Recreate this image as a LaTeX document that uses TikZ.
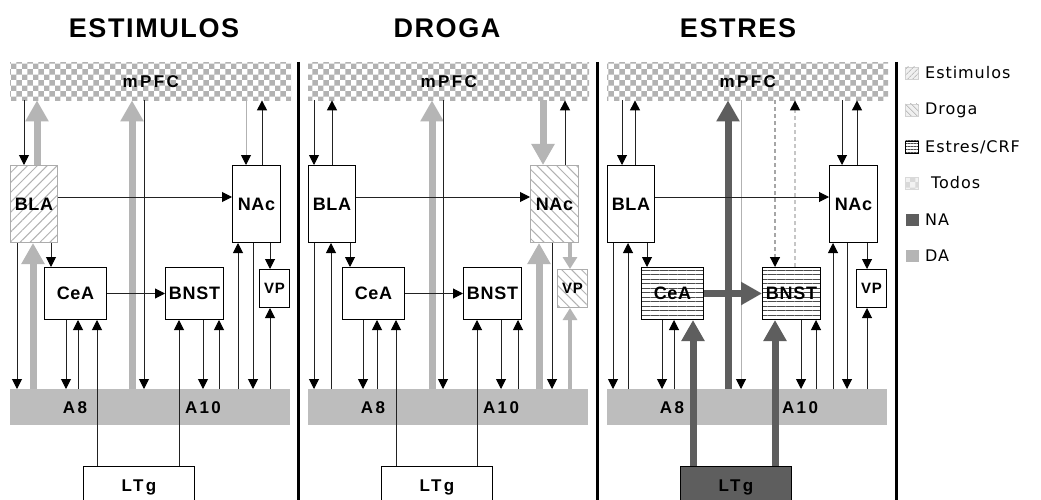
\documentclass[tikz,border=0pt]{standalone}
\usepackage{fontspec}
\setmainfont{Liberation Sans}
\newfontfamily\titfont{Liberation Sans}[LetterSpace=6]
\newfontfamily\lblfont{Liberation Sans}[LetterSpace=14]
\newfontfamily\boxfnt{Liberation Sans}[LetterSpace=4]
\newfontfamily\legfont{DejaVu Sans}[LetterSpace=6]
\usetikzlibrary{arrows.meta,patterns,patterns.meta}
\definecolor{bandgray}{HTML}{BDBDBD}
\definecolor{dagray}{HTML}{B5B5B5}
\definecolor{nagray}{HTML}{5E5E5E}
\definecolor{lnk}{HTML}{222222}
\tikzset{
  box/.style={line width=1pt, inner sep=0pt, anchor=north west,
    font=\boxfnt\bfseries\fontsize{18}{18}\selectfont},
  plainbox/.style={box, draw=black, fill=white},
  estimbox/.style={box, draw=gray!65, pattern={Lines[angle=45,distance=7pt,line width=1pt]}, pattern color=gray!60},
  drogbox/.style={box, draw=gray!65, pattern={Lines[angle=-45,distance=7pt,line width=1pt]}, pattern color=gray!60},
  estrbox/.style={box, draw=black, pattern={Lines[angle=0,distance=4.5pt,line width=1pt]}, pattern color=black!70},
  ltgplain/.style={plainbox, font=\lblfont\bfseries\fontsize{17}{17}\selectfont},
  ltgna/.style={box, draw=black, fill=nagray, font=\lblfont\bfseries\fontsize{17}{17}\selectfont},
  mpfcband/.style={inner sep=0pt, anchor=north west, pattern=checkerboard, pattern color=gray!60,
    minimum width=281pt, minimum height=38pt, font=\lblfont\bfseries\fontsize{17}{17}\selectfont},
  bandbox/.style={inner sep=0pt, anchor=north west, fill=bandgray, minimum width=280pt, minimum height=36pt},
  lbl/.style={font=\lblfont\bfseries\fontsize{17}{17}\selectfont, inner sep=0pt},
  titl/.style={font=\titfont\bfseries\fontsize{27}{27}\selectfont, inner sep=0pt},
  thinarr/.style={draw=lnk, line width=1pt, -{Triangle[length=10pt,width=10pt,color=black]}},
  greyarr/.style={draw=gray!60, line width=1pt, -{Triangle[length=10pt,width=10pt,color=black]}},
  dashdown/.style={draw=gray!70, line width=1.2pt, dash pattern=on 4pt off 3pt, -{Triangle[length=10pt,width=10pt,color=black]}},
  dashup/.style={draw=gray!45, line width=1.2pt, dash pattern=on 4pt off 3pt, -{Triangle[length=10pt,width=10pt,color=black]}},
  da/.style={draw=dagray, line width=7pt, -{Triangle[length=21pt,width=22pt]}},
  dasmall/.style={draw=dagray, line width=4pt, -{Triangle[length=12pt,width=14pt]}},
  na/.style={draw=nagray, line width=7pt, -{Triangle[length=21pt,width=22pt]}},
  sep/.style={line width=3pt, draw=black},
  legsq/.style={minimum width=13pt, minimum height=12pt, inner sep=0pt, line width=0.6pt},
  legtxt/.style={anchor=west, inner sep=0pt, font=\legfont\fontsize{16}{16}\selectfont},
}
\newcommand\vconn[4]{\draw[#1] (#3 -| #2,0) -- (#4 -| #2,0);}
\newcommand\basenodes[6]{%
  \node[mpfcband] (mpfc) at (10,62) {mPFC};
  \node[bandbox] (band) at (10,389) {};
  \node[lbl] (a8) at (75,408) {A8};
  \node[lbl] (a10) at (203,408) {A10};
  \node[#1, minimum width=47pt, minimum height=77pt] (bla) at (10,165) {BLA};
  \node[#2, minimum width=48pt, minimum height=77pt] (nac) at (232,165) {NAc};
  \node[#3, minimum width=62pt, minimum height=52pt] (cea) at (44,267) {CeA};
  \node[#4, minimum width=58pt, minimum height=52pt] (bnst) at (165,267) {BNST};
  \node[#5, minimum width=30pt, minimum height=38pt, font=\boxfnt\bfseries\fontsize{15}{15}\selectfont] (vp) at (259,269) {VP};
  \node[#6, minimum width=111pt, minimum height=42pt] (ltg) at (83,466) {LTg};
}
\begin{document}
\begin{tikzpicture}[x=1pt,y=-1pt]
\useasboundingbox (0,0) rectangle (1041,500);
\fill[white] (0,0) rectangle (1041,500);
\clip (0,0) rectangle (1041,500);

% titles
\node[titl] (t1) at (154,28) {ESTIMULOS};
\node[titl] (t2) at (447,28) {DROGA};
\node[titl] (t3) at (738,28) {ESTRES};

% separators
\draw[sep] (298,62) -- (298,500);
\draw[sep] (597,62) -- (597,500);
\draw[sep] (896,62) -- (896,500);

% ---------- panel 1 : ESTIMULOS
\begin{scope}[name prefix=p1-]
\basenodes{estimbox}{plainbox}{plainbox}{plainbox}{plainbox}{ltgplain}
\vconn{thinarr}{24}{mpfc.south}{bla.north}
\vconn{da}{37}{bla.north}{mpfc.south}
\vconn{da}{33}{band.north}{bla.south}
\vconn{thinarr}{17}{bla.south}{band.north}
\vconn{thinarr}{51}{bla.south}{cea.north}
\vconn{da}{132}{band.north}{mpfc.south}
\vconn{thinarr}{144}{mpfc.south}{band.north}
\vconn{greyarr}{246}{mpfc.south}{nac.north}
\vconn{thinarr}{262}{nac.north}{mpfc.south}
\vconn{thinarr}{66}{cea.south}{band.north}
\vconn{thinarr}{78}{band.north}{cea.south}
\vconn{thinarr}{97}{ltg.north}{cea.south}
\vconn{thinarr}{179}{ltg.north}{bnst.south}
\vconn{thinarr}{203}{bnst.south}{band.north}
\vconn{thinarr}{219}{band.north}{bnst.south}
\vconn{thinarr}{238}{band.north}{nac.south}
\vconn{thinarr}{253}{nac.south}{band.north}
\vconn{thinarr}{270}{nac.south}{vp.north}
\vconn{thinarr}{270}{band.north}{vp.south}
\draw[thinarr] (bla.east |- 0,197) -- (nac.west |- 0,197);
\draw[thinarr] (cea) -- (bnst);
\end{scope}

% ---------- panel 2 : DROGA
\begin{scope}[xshift=298pt, name prefix=p2-]
\basenodes{plainbox}{drogbox}{plainbox}{plainbox}{drogbox}{ltgplain}
\vconn{thinarr}{16}{mpfc.south}{bla.north}
\vconn{thinarr}{34}{bla.north}{mpfc.south}
\vconn{thinarr}{16}{bla.south}{band.north}
\vconn{thinarr}{33}{band.north}{bla.south}
\vconn{thinarr}{52}{bla.south}{cea.north}
\vconn{da}{134}{band.north}{mpfc.south}
\vconn{thinarr}{145}{mpfc.south}{band.north}
\vconn{da}{245}{mpfc.south}{nac.north}
\vconn{thinarr}{267}{nac.north}{mpfc.south}
\vconn{thinarr}{65}{cea.south}{band.north}
\vconn{thinarr}{79}{band.north}{cea.south}
\vconn{thinarr}{98}{ltg.north}{cea.south}
\vconn{thinarr}{179}{ltg.north}{bnst.south}
\vconn{thinarr}{203}{bnst.south}{band.north}
\vconn{thinarr}{220}{band.north}{bnst.south}
\vconn{da}{241}{band.north}{nac.south}
\vconn{thinarr}{254}{nac.south}{band.north}
\vconn{dasmall}{272}{nac.south}{vp.north}
\vconn{dasmall}{272}{band.north}{vp.south}
\draw[thinarr] (bla.east |- 0,197) -- (nac.west |- 0,197);
\draw[thinarr] (cea) -- (bnst);
\end{scope}

% ---------- panel 3 : ESTRES
\begin{scope}[xshift=597pt, name prefix=p3-]
\basenodes{plainbox}{plainbox}{estrbox}{estrbox}{plainbox}{ltgna}
\vconn{thinarr}{25}{mpfc.south}{bla.north}
\vconn{thinarr}{38}{bla.north}{mpfc.south}
\vconn{thinarr}{16}{bla.south}{band.north}
\vconn{thinarr}{31}{band.north}{bla.south}
\vconn{thinarr}{50}{bla.south}{cea.north}
\vconn{na}{131}{band.north}{mpfc.south}
\vconn{greyarr}{144}{mpfc.south}{band.north}
\vconn{dashdown}{178}{mpfc.south}{bnst.north}
\vconn{dashup}{198}{bnst.north}{mpfc.south}
\vconn{thinarr}{245}{mpfc.south}{nac.north}
\vconn{thinarr}{260}{nac.north}{mpfc.south}
\vconn{thinarr}{65}{cea.south}{band.north}
\vconn{thinarr}{77}{band.north}{cea.south}
\vconn{na}{96}{ltg.north}{cea.south}
\vconn{na}{178}{ltg.north}{bnst.south}
\vconn{thinarr}{204}{bnst.south}{band.north}
\vconn{thinarr}{219}{band.north}{bnst.south}
\vconn{thinarr}{236}{band.north}{nac.south}
\vconn{thinarr}{250}{nac.south}{band.north}
\vconn{thinarr}{270}{nac.south}{vp.north}
\vconn{thinarr}{270}{band.north}{vp.south}
\draw[thinarr] (bla.east |- 0,197) -- (nac.west |- 0,197);
\draw[na] (cea) -- (bnst);
\end{scope}

% ---------- legend
\node[legsq, draw=gray!35, fill=gray!12, postaction={pattern={Lines[angle=45,distance=4pt,line width=0.8pt]}, pattern color=gray!50}] (l1) at (912,73) {};
\node[legsq, draw=gray!35, fill=gray!12, postaction={pattern={Lines[angle=-45,distance=4pt,line width=0.8pt]}, pattern color=gray!50}] (l2) at (912,110) {};
\node[legsq, draw=black, pattern={Lines[angle=0,distance=3pt,line width=0.7pt]}, pattern color=black!70] (l3) at (912,147) {};
\node[legsq, draw=gray!30, fill=gray!10, postaction={pattern=checkerboard, pattern color=gray!30}] (l4) at (912,183) {};
\node[legsq, fill=nagray] (l5) at (912,220) {};
\node[legsq, fill=dagray] (l6) at (912,256) {};
\node[legtxt] (lt1) at (925,73) {Estimulos};
\node[legtxt] (lt2) at (925,110) {Droga};
\node[legtxt] (lt3) at (925,147) {Estres/CRF};
\node[legtxt] (lt4) at (931,183) {Todos};
\node[legtxt] (lt5) at (925,220) {NA};
\node[legtxt] (lt6) at (925,256) {DA};
\end{tikzpicture}
\end{document}
